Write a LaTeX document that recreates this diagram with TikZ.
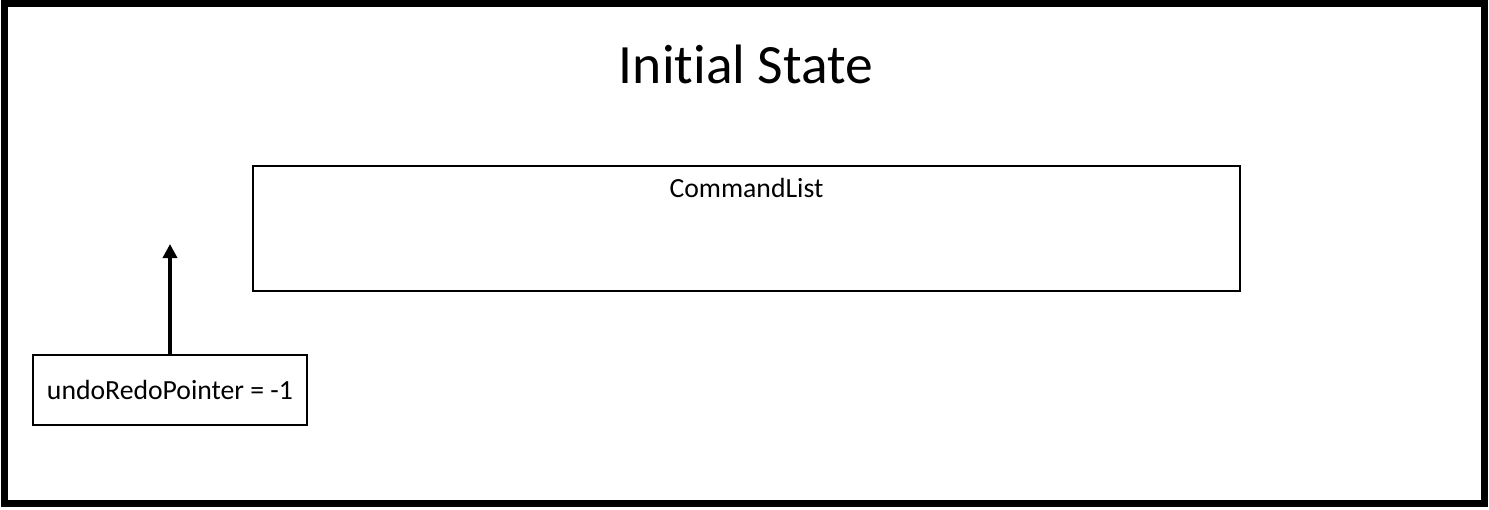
\documentclass[tikz,border=0pt]{standalone}
\usepackage{fontspec}
\setmainfont[Ligatures=NoCommon]{Carlito}
\usetikzlibrary{positioning,arrows.meta}

\begin{document}
\begin{tikzpicture}[x=1pt, y=-1pt, box/.style = {draw, line width=2pt, inner sep=0pt}, boxtext/.style = {font=\fontsize{27.7}{33}\selectfont}]
  \useasboundingbox (0,0) rectangle (1489,509);
  \draw[line width=6.5pt] (4.5,3.5) rectangle (1484.5,503.5);
  \node[font=\fontsize{55.5}{66}\selectfont] (title) at (746,64) {Initial State};
  \node[box, minimum width=987pt, minimum height=125pt] (list) at (746.5,228.5) {};
  \node[boxtext, anchor=north, inner sep=0pt] (listname) at ([yshift=-13pt]list.north) {CommandList};
  \node[box, boxtext, minimum width=274pt, minimum height=70pt] (pointer) at (170,390) {undoRedoPointer = -1};
  \coordinate (target) at ([yshift=110pt]pointer.north);
  \draw[line width=4pt, -{Triangle[length=14pt, width=14pt]}] (pointer.north) -- (target);
\end{tikzpicture}
\end{document}
